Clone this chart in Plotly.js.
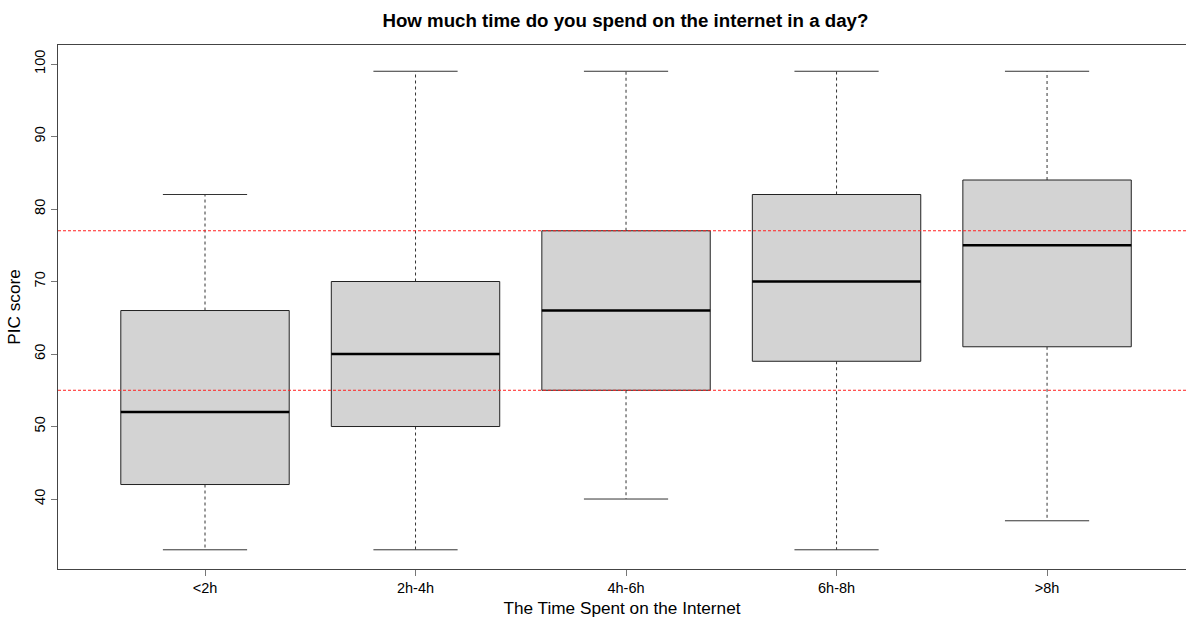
<!DOCTYPE html>
<html>
<head>
<meta charset="utf-8">
<script src="https://cdn.plot.ly/plotly-3.0.1.min.js"></script>
<style>html,body{margin:0;padding:0;background:#fff;}#chart{width:1186px;height:618px;}</style>
</head>
<body>
<div id="chart"></div>
<script>
const categories = ["<2h", "2h-4h", "4h-6h", "6h-8h", ">8h"];
const lowerWhisker = [33, 33, 40, 33, 37];
const q1 = [42, 50, 55, 59, 61];
const median = [52, 60, 66, 70, 75];
const q3 = [66, 70, 77, 82, 84];
const upperWhisker = [82, 99, 99, 99, 99];
const refLines = [77, 55];

const boxHalf = 0.4, capHalf = 0.2;
const traces = [];
categories.forEach((c, i) => {
  const x = i + 1;
  traces.push({type: 'scatter', mode: 'lines', x: [x, x, null, x, x],
    y: [q3[i], upperWhisker[i], null, q1[i], lowerWhisker[i]],
    line: {color: '#333', width: 1, dash: '3px,3px'}, hoverinfo: 'skip', showlegend: false});
  traces.push({type: 'scatter', mode: 'lines',
    x: [x - capHalf, x + capHalf, null, x - capHalf, x + capHalf],
    y: [upperWhisker[i], upperWhisker[i], null, lowerWhisker[i], lowerWhisker[i]],
    line: {color: '#333', width: 1}, hoverinfo: 'skip', showlegend: false});
  traces.push({type: 'scatter', mode: 'lines',
    x: [x - boxHalf, x + boxHalf, x + boxHalf, x - boxHalf, x - boxHalf],
    y: [q1[i], q1[i], q3[i], q3[i], q1[i]],
    fill: 'toself', fillcolor: '#D3D3D3',
    line: {color: '#222', width: 1}, hoverinfo: 'skip', showlegend: false});
  traces.push({type: 'scatter', mode: 'lines',
    x: [x - boxHalf, x + boxHalf], y: [median[i], median[i]],
    line: {color: '#000', width: 2.6}, hoverinfo: 'skip', showlegend: false});
});

const shapes = refLines.map(v => ({type: 'line', xref: 'paper', x0: 0, x1: 1, yref: 'y', y0: v, y1: v,
  line: {color: '#FF2020', width: 1, dash: '3px,2px'}, layer: 'above'}));

const layout = {
  width: 1186, height: 618,
  margin: {l: 58, r: 0, t: 45, b: 49},
  paper_bgcolor: '#fff', plot_bgcolor: '#fff',
  font: {family: 'Liberation Sans, Arial, sans-serif', color: '#000'},
  title: {text: '<b>How much time do you spend on the internet in a day?</b>',
    font: {size: 18.7, color: '#000'}, xref: 'paper', x: 0.503, xanchor: 'center', y: 0.967, yanchor: 'middle'},
  xaxis: {range: [0.3017, 5.66], tickvals: categories.map((c, i) => i + 1), ticktext: categories,
    showgrid: false, zeroline: false, showline: true, linecolor: '#444', linewidth: 1, mirror: true,
    ticks: 'outside', ticklen: 6, tickcolor: '#777', tickfont: {size: 14.5},
    title: {text: 'The Time Spent on the Internet', font: {size: 17.2}, standoff: 9}},
  yaxis: {range: [30.35, 102.62], tickvals: [40, 50, 60, 70, 80, 90, 100],
    showgrid: false, zeroline: false, showline: true, linecolor: '#444', linewidth: 1,
    ticks: 'outside', ticklen: 6, tickcolor: '#777', tickfont: {size: 14.5}, tickangle: -90,
    title: {text: 'PIC score', font: {size: 17.2}, standoff: 7}},
  shapes: shapes
};

Plotly.newPlot('chart', traces, layout, {displayModeBar: false, staticPlot: true});
</script>
</body>
</html>
